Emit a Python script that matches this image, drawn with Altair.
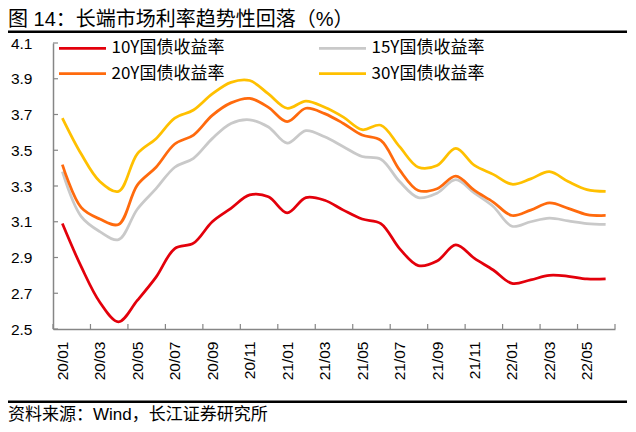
import altair as alt
import pandas as pd

# ---------------- data ----------------
TITLE = "图 14：长端市场利率趋势性回落（%）"
SOURCE = "资料来源：Wind，长江证券研究所"

# monthly observations, 2020/01 .. 2022/06 (plotted at mid-month)
months = ["20/01", "20/02", "20/03", "20/04", "20/05", "20/06", "20/07", "20/08", "20/09", "20/10",
          "20/11", "20/12", "21/01", "21/02", "21/03", "21/04", "21/05", "21/06", "21/07", "21/08",
          "21/09", "21/10", "21/11", "21/12", "22/01", "22/02", "22/03", "22/04", "22/05", "22/06"]

y10 = [3.09, 2.85, 2.65, 2.54, 2.66, 2.79, 2.95, 2.98, 3.10, 3.175,
       3.25, 3.24, 3.15, 3.235, 3.22, 3.165, 3.115, 3.09, 2.95, 2.855,
       2.88, 2.97, 2.895, 2.83, 2.755, 2.775, 2.80, 2.795, 2.78, 2.78]
y15 = [3.38, 3.13, 3.045, 3.00, 3.17, 3.285, 3.405, 3.455, 3.565, 3.65,
       3.67, 3.63, 3.54, 3.61, 3.575, 3.52, 3.465, 3.45, 3.325, 3.235,
       3.26, 3.335, 3.26, 3.185, 3.075, 3.10, 3.12, 3.105, 3.09, 3.085]
y20 = [3.42, 3.18, 3.115, 3.085, 3.305, 3.405, 3.535, 3.585, 3.695, 3.765,
       3.79, 3.74, 3.66, 3.735, 3.705, 3.65, 3.585, 3.555, 3.39, 3.275,
       3.285, 3.355, 3.275, 3.21, 3.135, 3.165, 3.205, 3.175, 3.14, 3.135]
y30 = [3.68, 3.48, 3.325, 3.27, 3.48, 3.565, 3.68, 3.725, 3.815, 3.88,
       3.89, 3.815, 3.735, 3.775, 3.74, 3.685, 3.615, 3.64, 3.52, 3.405,
       3.415, 3.51, 3.415, 3.365, 3.31, 3.34, 3.38, 3.325, 3.28, 3.27]

series_names = ["10Y国债收益率", "15Y国债收益率", "20Y国债收益率", "30Y国债收益率"]
series_values = [y10, y15, y20, y30]
colors = ["#E3000B", "#C9C9C9", "#FF6A0D", "#FFC000"]

tick_labels = ["20/01", "20/03", "20/05", "20/07", "20/09", "20/11", "21/01", "21/03",
               "21/05", "21/07", "21/09", "21/11", "22/01", "22/03", "22/05"]
x_ticks = [0, 2, 4, 6, 8, 10, 12, 14, 16, 18, 20, 22, 24, 26, 28, 30]
y_ticks = [2.5, 2.7, 2.9, 3.1, 3.3, 3.5, 3.7, 3.9, 4.1]

rows = []
for name, vals in zip(series_names, series_values):
    for i, v in enumerate(vals):
        rows.append({"month": i + 0.5, "value": v, "series": name, "label": months[i]})
df = pd.DataFrame(rows)

# ---------------- styling ----------------
W, H = 562, 286
GREY = "#868686"
LATIN = "Liberation Sans"
CJK = "Noto Sans CJK SC"

label_arr = "[" + ",".join(f"'{t}'" for t in tick_labels) + "]"

xenc = alt.X(
    "month:Q",
    scale=alt.Scale(domain=[0, 30], nice=False, zero=False),
    axis=alt.Axis(
        values=x_ticks[:-1],
        labelExpr=f"{label_arr}[datum.value/2]",
        labelAngle=270,
        labelOffset=9.375,
        labelPadding=12,
        labelFont=LATIN,
        labelFontSize=15.5,
        labelColor="#000000",
        labelOverlap=False,
        labelFlush=False,
        ticks=False,
        tickSize=0,
        grid=False,
        title=None,
        domainColor=GREY,
        domainWidth=1.5,
    ),
)

yenc = alt.Y(
    "value:Q",
    scale=alt.Scale(domain=[2.5, 4.1], nice=False, zero=False),
    axis=alt.Axis(
        values=y_ticks,
        format=".1f",
        labelPadding=21,
        labelFont=LATIN,
        labelFontSize=15.5,
        labelColor="#000000",
        labelOverlap=False,
        labelFlush=False,
        ticks=False,
        tickSize=0,
        grid=False,
        title=None,
        domainColor=GREY,
        domainWidth=1.5,
    ),
)

lines = alt.Chart(df).mark_line(interpolate="catmull-rom", strokeWidth=2.75).encode(
    x=xenc,
    y=yenc,
    color=alt.Color(
        "series:N",
        scale=alt.Scale(domain=series_names, range=colors),
        legend=alt.Legend(
            title=None,
            orient="none",
            direction="horizontal",
            legendX=4.5,
            legendY=-3.2,
            columns=2,
            columnPadding=93,
            rowPadding=7.4,
            symbolType="stroke",
            symbolSize=2209,
            symbolStrokeWidth=2.75,
            clipHeight=17,
            labelFont=CJK,
            labelFontSize=17,
            labelColor="#000000",
            labelOffset=4,
            padding=0,
        ),
    ),
)

xt = alt.Chart(pd.DataFrame({"month": x_ticks})).mark_rule(color=GREY, strokeWidth=1.2).encode(
    x=xenc, y=alt.value(H), y2=alt.value(H - 5)
)
yt = alt.Chart(pd.DataFrame({"value": y_ticks})).mark_rule(color=GREY, strokeWidth=1.2).encode(
    y=yenc, x=alt.value(0), x2=alt.value(5)
)

dummy = pd.DataFrame({"t": [TITLE], "s": [SOURCE]})
title = alt.Chart(dummy).mark_text(
    align="left", baseline="middle", font=f"{LATIN}, {CJK}", fontSize=20, color="#000000"
).encode(x=alt.value(-45), y=alt.value(-23), text="t:N")
source = alt.Chart(dummy).mark_text(
    align="left", baseline="middle", font=f"{LATIN}, {CJK}", fontSize=17, color="#000000"
).encode(x=alt.value(-45), y=alt.value(372), text="s:N")
top_rule = alt.Chart(dummy).mark_rule(color="#000000", strokeWidth=2.5).encode(
    x=alt.value(-45), x2=alt.value(W + 12), y=alt.value(-11.3)
)
bottom_rule = alt.Chart(dummy).mark_rule(color="#000000", strokeWidth=2.5).encode(
    x=alt.value(-45), x2=alt.value(W + 12), y=alt.value(358.7)
)

chart = alt.layer(lines, xt, yt, title, source, top_rule, bottom_rule).properties(
    width=W,
    height=H,
    autosize=alt.AutoSizeParams(type="none"),
    padding={"left": 45, "top": 35, "right": 12, "bottom": 95},
).configure_view(stroke=None)

chart.save("out.html", embed_options={"renderer": "svg", "actions": False})
